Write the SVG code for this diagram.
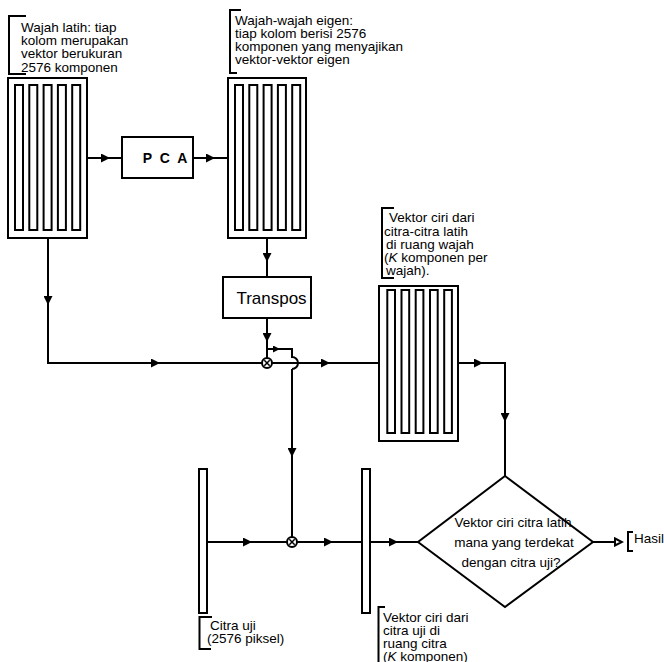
<svg xmlns="http://www.w3.org/2000/svg" width="664" height="662" viewBox="0 0 664 662">
<defs>
<style>
.ln{fill:none;stroke:#000;stroke-width:2}
.box{fill:#fff;stroke:#000;stroke-width:2}
.col{fill:#fff;stroke:#000;stroke-width:2}
.tx{font-family:"Liberation Sans",Arial,sans-serif;font-size:13.5px;fill:#000}
.arr{fill:none;stroke:#000;stroke-width:2;marker-mid:url(#ah)}
</style>
<marker id="ah" markerUnits="userSpaceOnUse" markerWidth="10" markerHeight="9" refX="9" refY="4.5" orient="auto"><path d="M0,0 L9,4.5 L0,9 z" fill="#000"/></marker>
<marker id="ahs" markerUnits="userSpaceOnUse" markerWidth="8" markerHeight="7" refX="7" refY="3.5" orient="auto"><path d="M0,0 L7,3.5 L0,7 z" fill="#000"/></marker>
<marker id="aho" markerUnits="userSpaceOnUse" markerWidth="10" markerHeight="10" refX="8" refY="5" orient="auto"><path d="M1,1.5 L8,5 L1,8.5 z" fill="#fff" stroke="#000" stroke-width="2"/></marker>
</defs>
<rect width="664" height="662" fill="#fff"/>

<g id="connectors">
<path class="arr" d="M87,158 L110,158 L122,158"/>
<path class="arr" d="M193,158 L215,158 L228,158"/>
<path class="arr" d="M48,238 L48,305 L48,363"/>
<path class="arr" d="M47,363 L160,363 L262,363"/>
<path class="arr" d="M267,238 L267,262 L267,277"/>
<path class="arr" d="M267,318 L267,342 L267,358"/>
<path class="ln" d="M267,349 L280,349" marker-end="url(#ahs)"/>
<path class="ln" d="M280,349 L292,349 L292,357 A6,6 0 0 1 292,369"/>
<path class="arr" d="M292,369 L292,457 L292,537"/>
<path class="arr" d="M272,363 L330,363 L379,363"/>
<path class="arr" d="M458,363 L483,363 L506,363"/>
<path class="arr" d="M505,362 L505,422 L505,476"/>
<path class="arr" d="M206,542 L252,542 L287,542"/>
<path class="arr" d="M297,542 L333,542 L362,542"/>
<path class="arr" d="M370,542 L398,542 L418,542"/>
<path class="ln" d="M593,542 L622,542" marker-end="url(#aho)"/>
</g>

<g id="note-wajah-latih">
<path class="ln" d="M26,16 H9 V74 H26"/>
<text class="tx" x="21" y="31.5">Wajah latih: tiap</text>
<text class="tx" x="21" y="45">kolom merupakan</text>
<text class="tx" x="21" y="58.3">vektor berukuran</text>
<text class="tx" x="21" y="71.6">2576 komponen</text>
</g>

<g id="matrix-latih">
<rect class="box" x="8" y="78" width="79" height="160"/>
<rect class="col" x="15" y="85" width="8" height="145"/>
<rect class="col" x="29.3" y="85" width="8" height="145"/>
<rect class="col" x="43.6" y="85" width="8" height="145"/>
<rect class="col" x="57.9" y="85" width="8" height="145"/>
<rect class="col" x="72.2" y="85" width="8" height="145"/>
</g>

<g id="pca">
<rect class="box" x="122" y="137" width="71" height="41"/>
<text x="166" y="163" text-anchor="middle" style="font-family:'Liberation Sans',Arial,sans-serif;font-size:14px;font-weight:bold;letter-spacing:2px">P C A</text>
</g>

<g id="note-eigen">
<path class="ln" d="M241,10 H230 V73 H237"/>
<text class="tx" x="235" y="25">Wajah-wajah eigen:</text>
<text class="tx" x="235" y="38">tiap kolom berisi 2576</text>
<text class="tx" x="235" y="51">komponen yang menyajikan</text>
<text class="tx" x="235" y="64">vektor-vektor eigen</text>
</g>

<g id="matrix-eigen">
<rect class="box" x="228" y="78" width="78" height="160"/>
<rect class="col" x="235" y="85" width="8" height="145"/>
<rect class="col" x="249.3" y="85" width="8" height="145"/>
<rect class="col" x="263.6" y="85" width="8" height="145"/>
<rect class="col" x="277.9" y="85" width="8" height="145"/>
<rect class="col" x="292.2" y="85" width="8" height="145"/>
</g>

<g id="transpos">
<rect class="box" x="223" y="277" width="88" height="41"/>
<text x="271.5" y="303.5" text-anchor="middle" style="font-family:'Liberation Sans',Arial,sans-serif;font-size:17px">Transpos</text>
</g>

<g id="mult-top">
<circle cx="267" cy="363" r="5" fill="#fff" stroke="#000" stroke-width="2"/>
<path d="M264.3,360.3 L269.7,365.7 M269.7,360.3 L264.3,365.7" stroke="#000" stroke-width="1.5"/>
</g>

<g id="note-vektor-latih">
<path class="ln" d="M394,208 H382 V278 H394"/>
<text class="tx" x="389" y="222">Vektor ciri dari</text>
<text class="tx" x="384" y="235.5">citra-citra latih</text>
<text class="tx" x="386" y="249">di ruang wajah</text>
<text class="tx" x="384" y="262">(<tspan font-style="italic">K</tspan> komponen per</text>
<text class="tx" x="386" y="275">wajah).</text>
</g>

<g id="matrix-vektor-latih">
<rect class="box" x="379" y="286" width="79" height="155"/>
<rect class="col" x="387.3" y="290" width="7.7" height="143"/>
<rect class="col" x="401.5" y="290" width="7.7" height="143"/>
<rect class="col" x="415.7" y="290" width="7.7" height="143"/>
<rect class="col" x="430" y="290" width="7.7" height="143"/>
<rect class="col" x="444.2" y="290" width="7.7" height="143"/>
</g>

<g id="citra-uji">
<rect class="box" x="199" y="469" width="8" height="144"/>
<path class="ln" d="M212,617 H199.5 V649 H211"/>
<text class="tx" x="210" y="630">Citra uji</text>
<text class="tx" x="207" y="643">(2576 piksel)</text>
</g>

<g id="mult-bottom">
<circle cx="292" cy="542" r="5" fill="#fff" stroke="#000" stroke-width="2"/>
<path d="M289.3,539.3 L294.7,544.7 M294.7,539.3 L289.3,544.7" stroke="#000" stroke-width="1.5"/>
</g>

<g id="vektor-uji">
<rect class="box" x="362" y="469" width="8" height="144"/>
<path class="ln" d="M385,607 H378.5 V662"/>
<text class="tx" x="383" y="622">Vektor ciri dari</text>
<text class="tx" x="383" y="635">citra uji di</text>
<text class="tx" x="383" y="648">ruang citra</text>
<text class="tx" x="383" y="661">(<tspan font-style="italic">K</tspan> komponen)</text>
</g>

<g id="decision">
<polygon class="box" points="505,476 593,542 505,607 418,542"/>
<text class="tx" x="513" y="527" text-anchor="middle">Vektor ciri citra latih</text>
<text class="tx" x="514" y="547" text-anchor="middle">mana yang terdekat</text>
<text class="tx" x="511" y="567" text-anchor="middle">dengan citra uji?</text>
</g>

<g id="hasil">
<path class="ln" d="M633,532 H628 V551 H633"/>
<text class="tx" x="634" y="543">Hasil</text>
</g>
</svg>
